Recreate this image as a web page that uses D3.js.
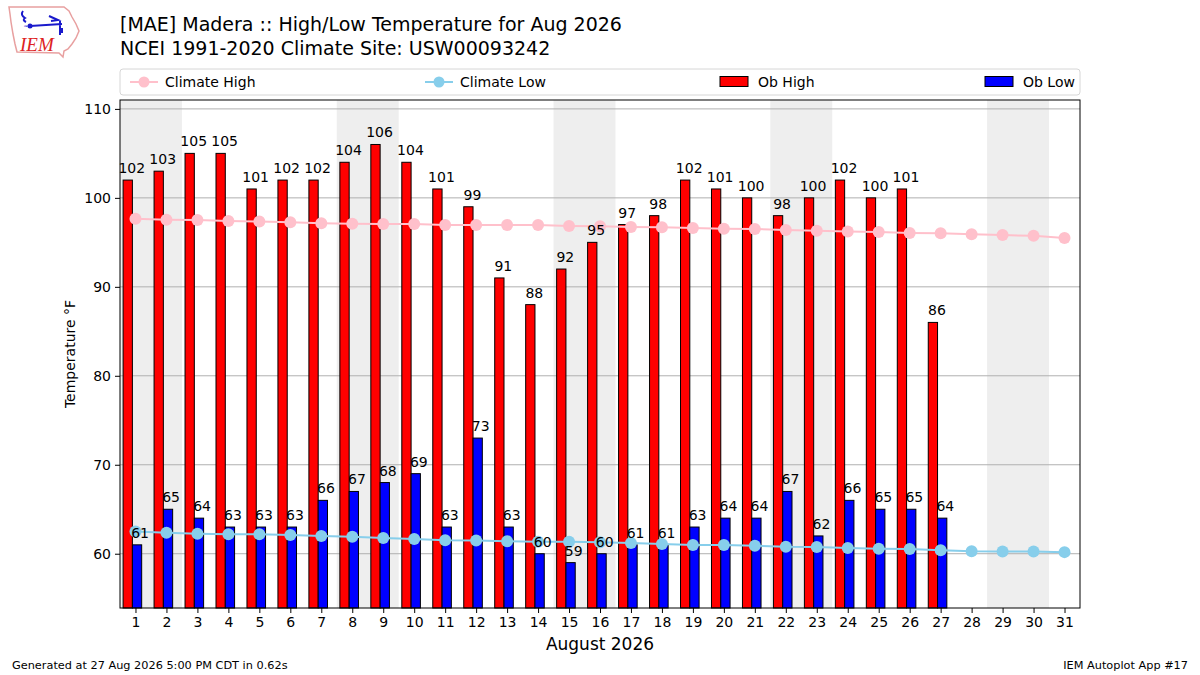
<!DOCTYPE html>
<html>
<head>
<meta charset="utf-8">
<script src="https://cdn.jsdelivr.net/npm/d3@7"></script>
<style>
  body { margin: 0; background: #fff; }
  svg { font-family: "DejaVu Sans", sans-serif; }
</style>
</head>
<body>
<script>
// --- data ---
const days = d3.range(1, 32);
const obDays = d3.range(1, 28);
const obHigh = [102, 103, 105, 105, 101, 102, 102, 104, 106, 104, 101, 99, 91, 88, 92, 95, 97, 98, 102, 101, 100, 98, 100, 102, 100, 101, 86];
const obLow = [61, 65, 64, 63, 63, 63, 66, 67, 68, 69, 63, 73, 63, 60, 59, 60, 61, 61, 63, 64, 64, 67, 62, 66, 65, 65, 64];
const climHigh = [97.65, 97.55, 97.5, 97.4, 97.35, 97.25, 97.15, 97.1, 97.05, 97.05, 96.95, 96.95, 96.95, 96.95, 96.85, 96.8,
  96.72, 96.7, 96.6, 96.52, 96.5, 96.4, 96.3, 96.22, 96.15, 96.05, 96.02, 95.92, 95.82, 95.73, 95.5];
const climLow = [62.5, 62.35, 62.25, 62.2, 62.2, 62.1, 62.0, 61.9, 61.78, 61.65, 61.52, 61.5, 61.4, 61.35, 61.35, 61.3,
  61.2, 61.1, 60.98, 60.98, 60.9, 60.78, 60.75, 60.64, 60.55, 60.52, 60.38, 60.28, 60.26, 60.24, 60.18];
const weekends = [[1, 2], [8, 9], [15, 16], [22, 23], [29, 30]];
const yTicks = [60, 70, 80, 90, 100, 110];

const W = 1200, H = 675;
const svg = d3.select('body').append('svg').attr('width', W).attr('height', H);

const x = d3.scaleLinear().domain([0.5, 31.5]).range([120, 1080]);
const y = d3.scaleLinear().domain([53.9, 111.0]).range([608, 100]);

// weekend shading
svg.selectAll('rect.wk').data(weekends).enter().append('rect')
  .attr('x', d => x(d[0] - 0.5))
  .attr('width', d => x(d[1] + 0.5) - x(d[0] - 0.5))
  .attr('y', y(111)).attr('height', y(53.9) - y(111))
  .attr('fill', '#eeeeee');

// grid
svg.selectAll('line.grid').data(yTicks).enter().append('line')
  .attr('x1', x(0.5)).attr('x2', x(31.5))
  .attr('y1', d => y(d)).attr('y2', d => y(d))
  .attr('stroke', '#b0b0b0').attr('stroke-width', 1);

// bars
const bw = 0.3;
svg.selectAll('rect.hi').data(obDays).enter().append('rect')
  .attr('x', d => x(d - 0.4))
  .attr('width', x(bw) - x(0))
  .attr('y', (d, i) => y(obHigh[i]))
  .attr('height', (d, i) => y(53.9) - y(obHigh[i]))
  .attr('fill', 'red').attr('stroke', 'black').attr('stroke-width', 1);
svg.selectAll('rect.lo').data(obDays).enter().append('rect')
  .attr('x', d => x(d - 0.1))
  .attr('width', x(bw) - x(0))
  .attr('y', (d, i) => y(obLow[i]))
  .attr('height', (d, i) => y(53.9) - y(obLow[i]))
  .attr('fill', 'blue').attr('stroke', 'black').attr('stroke-width', 1);

// climate lines
function climLine(vals, color) {
  const line = d3.line().x((d, i) => x(days[i])).y(d => y(d));
  svg.append('path').datum(vals).attr('d', line)
    .attr('fill', 'none').attr('stroke', color).attr('stroke-width', 2);
  svg.append('g').selectAll('circle').data(vals).enter().append('circle')
    .attr('cx', (d, i) => x(days[i])).attr('cy', d => y(d)).attr('r', 6)
    .attr('fill', color);
}
climLine(climHigh, 'pink');
climLine(climLow, 'skyblue');

// bar labels
svg.selectAll('text.hi').data(obDays).enter().append('text')
  .attr('x', d => x(d - 0.12)).attr('y', (d, i) => y(obHigh[i]) - 7)
  .attr('text-anchor', 'middle').attr('font-size', 14).text((d, i) => obHigh[i]);
svg.selectAll('text.lo').data(obDays).enter().append('text')
  .attr('x', d => x(d + 0.15)).attr('y', (d, i) => y(obLow[i]) - 7)
  .attr('text-anchor', 'middle').attr('font-size', 14).text((d, i) => obLow[i]);

// frame
svg.append('rect').attr('x', x(0.5)).attr('y', y(111))
  .attr('width', x(31.5) - x(0.5)).attr('height', y(53.9) - y(111))
  .attr('fill', 'none').attr('stroke', 'black').attr('stroke-width', 1);

// axes
const xAxis = svg.append('g').attr('transform', `translate(0,${y(53.9)})`)
  .call(d3.axisBottom(x).tickValues(days).tickFormat(d3.format('d')).tickSize(5).tickPadding(4));
const yAxis = svg.append('g').attr('transform', `translate(${x(0.5)},0)`)
  .call(d3.axisLeft(y).tickValues(yTicks).tickSize(5).tickPadding(4));
[xAxis, yAxis].forEach(g => {
  g.select('.domain').remove();
  g.selectAll('text').attr('font-size', 14).attr('font-family', 'DejaVu Sans').attr('fill', 'black');
});

svg.append('text').attr('x', 600).attr('y', 650).attr('text-anchor', 'middle')
  .attr('font-size', 17).text('August 2026');
svg.append('text').attr('transform', 'translate(75,354) rotate(-90)').attr('text-anchor', 'middle')
  .attr('font-size', 14).text('Temperature °F');

// titles
svg.append('text').attr('x', 120).attr('y', 31).attr('font-size', 19)
  .text('[MAE] Madera :: High/Low Temperature for Aug 2026');
svg.append('text').attr('x', 120).attr('y', 55).attr('font-size', 19)
  .text('NCEI 1991-2020 Climate Site: USW00093242');

// legend
const lg = svg.append('g');
lg.append('rect').attr('x', 120).attr('y', 69).attr('width', 960).attr('height', 26).attr('rx', 3)
  .attr('fill', 'white').attr('stroke', '#d6d6d6');
const legItems = [
  { name: 'Climate High', color: 'pink', kind: 'line', x0: 130 },
  { name: 'Climate Low', color: 'skyblue', kind: 'line', x0: 425 },
  { name: 'Ob High', color: 'red', kind: 'rect', x0: 720 },
  { name: 'Ob Low', color: 'blue', kind: 'rect', x0: 985 }
];
legItems.forEach(it => {
  if (it.kind === 'line') {
    lg.append('line').attr('x1', it.x0).attr('x2', it.x0 + 28).attr('y1', 82).attr('y2', 82)
      .attr('stroke', it.color).attr('stroke-width', 2);
    lg.append('circle').attr('cx', it.x0 + 14).attr('cy', 82).attr('r', 5.5).attr('fill', it.color);
  } else {
    lg.append('rect').attr('x', it.x0).attr('y', 76.5).attr('width', 28).attr('height', 10)
      .attr('fill', it.color).attr('stroke', 'black').attr('stroke-width', 1);
  }
  lg.append('text').attr('x', it.x0 + (it.kind === 'line' ? 35 : 38)).attr('y', 87).attr('font-size', 14).text(it.name);
});

// footer
svg.append('text').attr('x', 12).attr('y', 669).attr('font-size', 11.3)
  .text('Generated at 27 Aug 2026 5:00 PM CDT in 0.62s');
svg.append('text').attr('x', 1188).attr('y', 669).attr('font-size', 11.3).attr('text-anchor', 'end')
  .text('IEM Autoplot App #17');

// logo (rough)
const logo = svg.append('g');
logo.append('path')
  .attr('d', 'M9,7 L64,7 L69,11 L72,17 L76,24 L79,31 L76,38 L72,44 L68,49 L64,51 L63,57 L59,53 L17,52 L15,44 L13,34 L11,22 L10,14 Z')
  .attr('fill', 'none').attr('stroke', '#e8a0a0').attr('stroke-width', 1.5);
logo.append('path').attr('d', 'M30,26 L62,24 M49,16 L58,20 L51,21 M60,21 L60,35 M62,28 L62,33 M23,11 Q20,15 25,18 Q22,20 26,22')
  .attr('fill', 'none').attr('stroke', '#1a1acc').attr('stroke-width', 2);
logo.append('circle').attr('cx', 30).attr('cy', 26).attr('r', 2.5).attr('fill', '#1a1acc');
logo.append('text').attr('x', 24).attr('y', 29).attr('font-size', 6).attr('fill', '#1a1acc').text('ꟹ');
logo.append('text').attr('x', 20).attr('y', 51).attr('font-family', 'Liberation Serif')
  .attr('font-style', 'italic').attr('font-size', 19).attr('fill', '#dd2222').text('IEM');
</script>
</body>
</html>
